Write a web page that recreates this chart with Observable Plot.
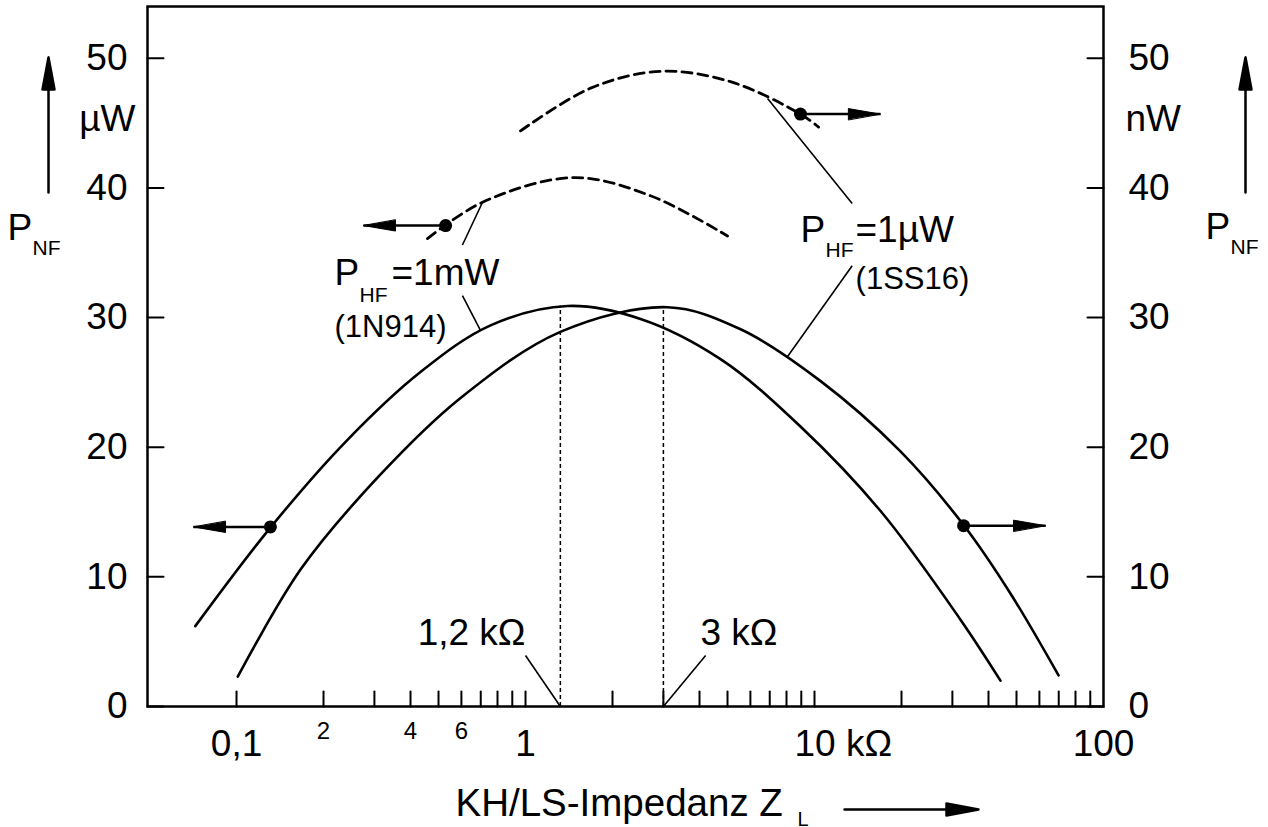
<!DOCTYPE html>
<html><head><meta charset="utf-8">
<script src="https://cdn.jsdelivr.net/npm/d3@7"></script>
<script src="https://cdn.jsdelivr.net/npm/@observablehq/plot@0.6"></script>
<style>
body{margin:0;background:#fff;}
#chart svg{display:block;}
</style></head><body><div id="chart"></div>
<script>
// ---------- data (Z_L in kΩ, P_NF in µW / nW) ----------
const zSolid1N914 = [0.072, 0.131, 0.238, 0.433, 0.757, 1.40, 2.50, 4.73, 8.94, 16.9, 32.0, 44.0];
const pSolid1N914 = [6.2, 13.8, 20.4, 25.8, 29.4, 30.9, 29.9, 26.8, 21.6, 15.1, 6.7, 2.0];

const zSolid1SS16 = [0.101, 0.167, 0.315, 0.596, 1.32, 3.10, 5.55, 10.5, 19.8, 32.8, 47.7, 69.9];
const pSolid1SS16 = [2.3, 10.6, 17.9, 23.8, 28.9, 30.8, 29.1, 25.1, 19.7, 14.0, 8.7, 2.4];

const zDash1uW = [0.961, 1.679, 2.93, 5.12, 8.94, 10.33];
const pDash1uW = [44.4, 47.7, 49.0, 48.2, 45.7, 44.7];

const zDash1mW = [0.458, 0.710, 1.466, 2.707, 5.0];
const pDash1mW = [36.1, 38.9, 40.8, 39.4, 36.3];

// markers with arrows pointing to the scale that applies
const dotZ = [0.131, 32.8, 0.529, 8.94];
const dotP = [13.85, 13.95, 37.1, 45.7];
const tipZ = [0.071, 63, 0.275, 16.9];
const tipRot = [-90, 90, -90, 90];

// optimum impedances
const optZ = [1.32, 3.0];
const optP = [30.9, 30.8];

// ticks
const yTicks = [0, 10, 20, 30, 40, 50];
const xTickMarks = [0.1,0.2,0.3,0.4,0.5,0.6,0.7,0.8,0.9,1,2,3,4,5,6,7,8,9,10,20,30,40,50,60,70,80,90];
const xMajor = [0.1, 1, 10, 100];
const xMajorLabels = ["0,1", "1", "10 kΩ", "100"];
const xMinor = [0.2, 0.4, 0.6];
const xMinorLabels = ["2", "4", "6"];

// ---------- helpers ----------
const toRows = (xs, ys) => xs.map((x, i) => ({x, y: ys[i]}));
const lineShape = {draw(ctx, l) { ctx.moveTo(0, 0); ctx.lineTo(0, -l); }};
const headShape = {draw(ctx, l) { ctx.moveTo(0, -l); ctx.lineTo(-5.5, 0); ctx.lineTo(5.5, 0); ctx.closePath(); }};
const arrowShape = {draw(ctx, l) {
  ctx.moveTo(0, 0); ctx.lineTo(0, -l + 20);
  ctx.moveTo(0, -l); ctx.lineTo(-6, -l + 32); ctx.lineTo(6, -l + 32); ctx.closePath();
}};
const F = 37;   // main font size
const S = 21;   // subscript size

const dots = dotZ.map((z, i) => ({z, p: dotP[i], t: tipZ[i], r: tipRot[i]}));

const chart = Plot.plot({
  width: 1268,
  height: 827,
  marginLeft: 147,
  marginRight: 165,
  marginTop: 6,
  marginBottom: 121,
  x: {type: "log", domain: [0.0492, 100], axis: null},
  y: {domain: [0, 54], axis: null},
  style: {fontFamily: "'Liberation Sans', Arial, sans-serif", fontSize: "37px", background: "white", color: "black", overflow: "visible"},
  marks: [
    Plot.frame({stroke: "black", strokeWidth: 2.5}),
    // inward tick marks
    Plot.vector(yTicks, {y: d => d, frameAnchor: "left", rotate: 90, length: 16, anchor: "start", shape: lineShape, stroke: "black", strokeWidth: 2}),
    Plot.vector(yTicks, {y: d => d, frameAnchor: "right", rotate: -90, length: 16, anchor: "start", shape: lineShape, stroke: "black", strokeWidth: 2}),
    Plot.vector(xTickMarks, {x: d => d, frameAnchor: "bottom", rotate: 0, length: 15, anchor: "start", shape: lineShape, stroke: "black", strokeWidth: 2}),
    // y tick labels
    Plot.text(yTicks, {y: d => d, frameAnchor: "left", dx: -20, textAnchor: "end", lineAnchor: "middle", text: d => String(d), fontSize: F}),
    Plot.text(yTicks, {y: d => d, frameAnchor: "right", dx: 25, textAnchor: "start", lineAnchor: "middle", text: d => String(d), fontSize: F}),
    // x tick labels
    Plot.text(xMajor, {x: d => d, filter: (d, i) => i !== 2, frameAnchor: "bottom", dy: 38, lineAnchor: "middle", text: d => xMajorLabels[xMajor.indexOf(d)], fontSize: F}),
    Plot.text(xMajor, {x: d => d, filter: (d, i) => i === 2, frameAnchor: "bottom", dx: -20, dy: 38, textAnchor: "start", lineAnchor: "middle", text: d => xMajorLabels[xMajor.indexOf(d)], fontSize: F}),
    Plot.text(xMinor, {x: d => d, frameAnchor: "bottom", dy: 25, lineAnchor: "middle", text: d => xMinorLabels[xMinor.indexOf(d)], fontSize: 24}),
    // x axis title
    Plot.text(["KH/LS-Impedanz Z"], {frameAnchor: "bottom", dx: -170, dy: 109, textAnchor: "start", lineAnchor: "bottom", fontSize: 38.5}),
    Plot.text(["L"], {frameAnchor: "bottom", dx: 172, dy: 119, textAnchor: "start", lineAnchor: "bottom", fontSize: 20}),
    Plot.vector([0], {frameAnchor: "bottom", dx: 219, dy: 103, rotate: 90, length: 134, anchor: "start", shape: arrowShape, fill: "black", stroke: "black", strokeWidth: 2.5}),
    // left unit and symbol
    Plot.text(["µW"], {y: 45.3, frameAnchor: "left", dx: -12, textAnchor: "end", lineAnchor: "middle", fontSize: F}),
    Plot.text(["P"], {y: 35.96, frameAnchor: "left", dx: -140, textAnchor: "start", lineAnchor: "bottom", fontSize: F}),
    Plot.text(["NF"], {y: 35.96, frameAnchor: "left", dx: -115, dy: 15, textAnchor: "start", lineAnchor: "bottom", fontSize: S}),
    Plot.vector([0], {y: 39.66, frameAnchor: "left", dx: -99, rotate: 0, length: 135, anchor: "start", shape: arrowShape, fill: "black", stroke: "black", strokeWidth: 2.5}),
    // right unit and symbol
    Plot.text(["nW"], {y: 45.3, frameAnchor: "right", dx: 22, textAnchor: "start", lineAnchor: "middle", fontSize: F}),
    Plot.text(["P"], {y: 36.1, frameAnchor: "right", dx: 102, textAnchor: "start", lineAnchor: "bottom", fontSize: F}),
    Plot.text(["NF"], {y: 36.1, frameAnchor: "right", dx: 127, dy: 15, textAnchor: "start", lineAnchor: "bottom", fontSize: S}),
    Plot.vector([0], {y: 39.66, frameAnchor: "right", dx: 142, rotate: 0, length: 135, anchor: "start", shape: arrowShape, fill: "black", stroke: "black", strokeWidth: 2.5}),
    // optimum verticals
    Plot.ruleX(optZ.map((z, i) => ({z, p: optP[i]})), {x: "z", y1: 0, y2: "p", stroke: "black", strokeWidth: 1.5, strokeDasharray: "4,3"}),
    // curves
    Plot.line(toRows(zSolid1N914, pSolid1N914), {x: "x", y: "y", curve: "catmull-rom", stroke: "black", strokeWidth: 2.6}),
    Plot.line(toRows(zSolid1SS16, pSolid1SS16), {x: "x", y: "y", curve: "catmull-rom", stroke: "black", strokeWidth: 2.6}),
    Plot.line(toRows(zDash1uW, pDash1uW), {x: "x", y: "y", curve: "catmull-rom", stroke: "black", strokeWidth: 2.8, strokeDasharray: "10,6"}),
    Plot.line(toRows(zDash1mW, pDash1mW), {x: "x", y: "y", curve: "catmull-rom", stroke: "black", strokeWidth: 2.8, strokeDasharray: "10,6"}),
    // scale-pointer arrows
    Plot.link(dots, {x1: "z", y1: "p", x2: "t", y2: "p", stroke: "black", strokeWidth: 2.5}),
    Plot.vector(dots, {x: "t", y: "p", rotate: d => d.r, length: 32, anchor: "end", shape: headShape, fill: "black", stroke: "black", strokeWidth: 1}),
    Plot.dot(dots, {x: "z", y: "p", r: 6.5, fill: "black", stroke: "none"}),
    // leader lines
    Plot.link([
      {x1: 1.0, y1: 3.94, x2: 1.32, y2: 0},
      {x1: 4.2, y1: 3.94, x2: 3.0, y2: 0},
      {x1: 0.605, y1: 31.7, x2: 0.699, y2: 29.0},
      {x1: 0.605, y1: 35.6, x2: 0.710, y2: 38.9},
      {x1: 13.5, y1: 38.8, x2: 6.88, y2: 46.9},
      {x1: 13.5, y1: 34.0, x2: 8.07, y2: 27.0}
    ], {x1: "x1", y1: "y1", x2: "x2", y2: "y2", stroke: "black", strokeWidth: 1.6}),
    // annotations
    Plot.text(["1,2 kΩ"], {x: 1.0, y: 5.63, textAnchor: "end", lineAnchor: "middle", fontSize: F}),
    Plot.text(["3 kΩ"], {x: 4.03, y: 5.63, textAnchor: "start", lineAnchor: "middle", fontSize: F}),
    Plot.text(["P"], {x: 0.2236, y: 32.48, dx: -3, textAnchor: "start", lineAnchor: "bottom", fontSize: F}),
    Plot.text(["HF"], {x: 0.2236, y: 32.48, dx: 22, dy: 17, textAnchor: "start", lineAnchor: "bottom", fontSize: S}),
    Plot.text(["=1mW"], {x: 0.2236, y: 32.48, dx: 54, textAnchor: "start", lineAnchor: "bottom", fontSize: F}),
    Plot.text(["(1N914)"], {x: 0.2236, y: 28.5, dx: -3, textAnchor: "start", lineAnchor: "bottom", fontSize: 31}),
    Plot.text(["P"], {x: 9.16, y: 35.8, dx: -3, textAnchor: "start", lineAnchor: "bottom", fontSize: F}),
    Plot.text(["HF"], {x: 9.16, y: 35.8, dx: 22, dy: 15, textAnchor: "start", lineAnchor: "bottom", fontSize: S}),
    Plot.text(["=1µW"], {x: 9.16, y: 35.8, dx: 52, textAnchor: "start", lineAnchor: "bottom", fontSize: F}),
    Plot.text(["(1SS16)"], {x: 13.87, y: 32.2, textAnchor: "start", lineAnchor: "bottom", fontSize: 31})
  ]
});
document.getElementById("chart").appendChild(chart);
</script>
</body></html>
